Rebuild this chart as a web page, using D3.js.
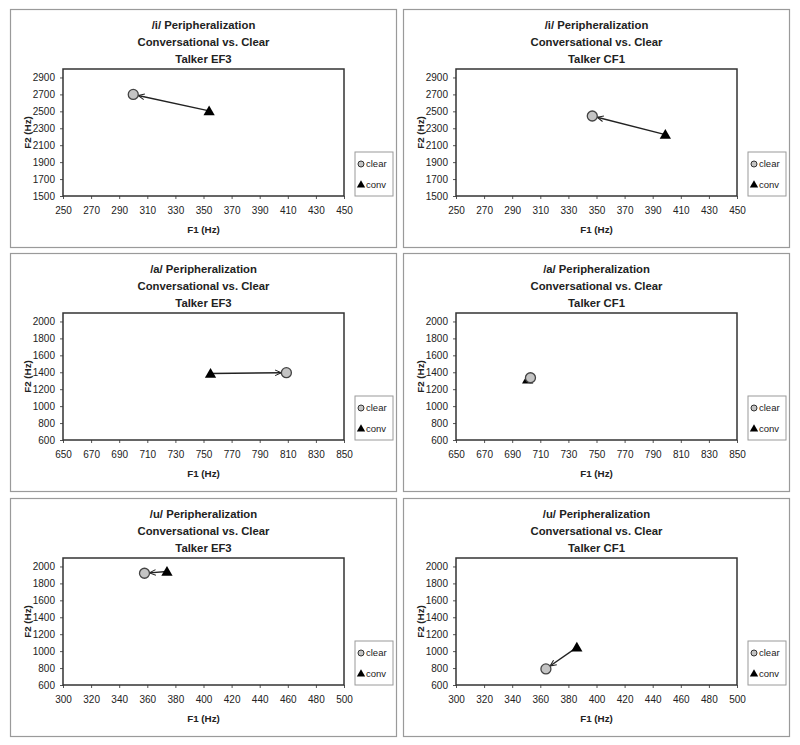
<!DOCTYPE html>
<html>
<head>
<meta charset="utf-8">
<script src="https://cdn.jsdelivr.net/npm/d3@7"></script>
<style>
  body { margin: 0; background: #fff; }
  text { font-family: "Liberation Sans", Arial, sans-serif; }
</style>
</head>
<body>
<div id="chart"></div>
<script>
// six panels: vowel x talker, clear vs conversational formants
let vowels  = ["/i/", "/i/", "/a/", "/a/", "/u/", "/u/"]
let talkers = ["EF3", "CF1", "EF3", "CF1", "EF3", "CF1"]

let clearF1 = [300, 347, 809, 703, 358, 364]
let clearF2 = [2700, 2445, 1395, 1335, 1920, 790]
let convF1  = [354, 399, 755, 701, 374, 386]
let convF2  = [2505, 2225, 1385, 1318, 1940, 1045]

let xDomains = [[250, 450], [250, 450], [650, 850], [650, 850], [300, 500], [300, 500]]
let yDomains = [[1500, 3000], [1500, 3000], [600, 2100], [600, 2100], [600, 2100], [600, 2100]]

let xTicksI = [250, 270, 290, 310, 330, 350, 370, 390, 410, 430, 450]
let xTicksA = [650, 670, 690, 710, 730, 750, 770, 790, 810, 830, 850]
let xTicksU = [300, 320, 340, 360, 380, 400, 420, 440, 460, 480, 500]
let yTicksI = [1500, 1700, 1900, 2100, 2300, 2500, 2700, 2900]
let yTicksAU = [600, 800, 1000, 1200, 1400, 1600, 1800, 2000]
let xTickSets = [xTicksI, xTicksI, xTicksA, xTicksA, xTicksU, xTicksU]
let yTickSets = [yTicksI, yTicksI, yTicksAU, yTicksAU, yTicksAU, yTicksAU]

let legendLabels = ["clear", "conv"]

let width = 800
let height = 745
let colX = [10, 403]
let rowY = [9, 253, 498]
let panelW = 386
let panelH = 238
let plotLeft = 53
let plotTop = 60
let plotW = 281
let plotH = 127

let svg = d3.select("#chart")
  .append("svg")
  .attr("width", width)
  .attr("height", height)

let defs = svg.append("defs")
defs.append("marker")
    .attr("id", "arrow")
    .attr("viewBox", "0 -5 10 10")
    .attr("refX", 9)
    .attr("refY", 0)
    .attr("markerWidth", 7)
    .attr("markerHeight", 7)
    .attr("markerUnits", "userSpaceOnUse")
    .attr("orient", "auto")
  .append("path")
    .attr("d", "M0,-4L9,0L0,4")
    .attr("fill", "none")
    .attr("stroke", "#222")
    .attr("stroke-width", 1.4)

let triangle = d3.symbol().type(d3.symbolTriangle).size(55)
let fmt = d3.format("d")

vowels.forEach((v, i) => {
  let px = colX[i % 2]
  let py = rowY[Math.floor(i / 2)]
  let g = svg.append("g").attr("transform", `translate(${px},${py})`)

  g.append("rect")
    .attr("x", 0.5).attr("y", 0.5)
    .attr("width", panelW).attr("height", panelH)
    .attr("fill", "#fff")
    .attr("stroke", "#9a9a9a")
    .attr("stroke-width", 1.2)

  let x = d3.scaleLinear().domain(xDomains[i]).range([plotLeft, plotLeft + plotW])
  let y = d3.scaleLinear().domain(yDomains[i]).range([plotTop + plotH, plotTop])

  // titles
  let cx = plotLeft + plotW / 2
  let titles = [v + " Peripheralization", "Conversational vs. Clear", "Talker " + talkers[i]]
  g.selectAll(".title")
    .data(titles)
    .enter()
    .append("text")
    .attr("x", cx)
    .attr("y", (d, k) => 20 + k * 17)
    .attr("text-anchor", "middle")
    .attr("font-size", "11.3px")
    .attr("font-weight", "bold")
    .attr("fill", "#222")
    .text(d => d)

  // axes
  let xAxis = d3.axisBottom(x).tickValues(xTickSets[i]).tickFormat(fmt)
                .tickSize(3).tickSizeOuter(0).tickPadding(8)
  let yAxis = d3.axisLeft(y).tickValues(yTickSets[i]).tickFormat(fmt)
                .tickSize(3).tickSizeOuter(0).tickPadding(5)

  let gx = g.append("g")
    .attr("transform", `translate(0,${plotTop + plotH})`)
    .call(xAxis)
  let gy = g.append("g")
    .attr("transform", `translate(${plotLeft},0)`)
    .call(yAxis)
  ;[gx, gy].forEach(a => {
    a.select(".domain").remove()
    a.selectAll(".tick line").attr("stroke", "#555")
    a.selectAll(".tick text")
      .attr("font-size", "10px")
      .attr("fill", "#222")
      .style("font-family", "'Liberation Sans', Arial, sans-serif")
  })

  g.append("rect")
    .attr("x", plotLeft).attr("y", plotTop)
    .attr("width", plotW).attr("height", plotH)
    .attr("fill", "none")
    .attr("stroke", "#333")
    .attr("stroke-width", 1.5)

  g.append("text")
    .attr("x", cx)
    .attr("y", plotTop + plotH + 37)
    .attr("text-anchor", "middle")
    .attr("font-size", "9.8px")
    .attr("font-weight", "bold")
    .attr("fill", "#222")
    .text("F1 (Hz)")

  g.append("text")
    .attr("transform", `translate(21,${plotTop + plotH / 2}) rotate(-90)`)
    .attr("text-anchor", "middle")
    .attr("font-size", "9.8px")
    .attr("font-weight", "bold")
    .attr("fill", "#222")
    .text("F2 (Hz)")

  // arrow from conversational to clear
  let x1 = x(convF1[i]), y1 = y(convF2[i])
  let x2 = x(clearF1[i]), y2 = y(clearF2[i])
  let len = Math.hypot(x2 - x1, y2 - y1)
  let r = 5
  if (len > r + 2) {
    let ex = x2 - (x2 - x1) / len * r
    let ey = y2 - (y2 - y1) / len * r
    g.append("line")
      .attr("x1", x1).attr("y1", y1)
      .attr("x2", ex).attr("y2", ey)
      .attr("stroke", "#222")
      .attr("stroke-width", 1.4)
      .attr("marker-end", "url(#arrow)")
  }

  g.append("path")
    .attr("d", triangle)
    .attr("transform", `translate(${x1},${y1 + 1})`)
    .attr("fill", "#000")

  g.append("circle")
    .attr("cx", x2).attr("cy", y2)
    .attr("r", r)
    .attr("fill", "#c4c4c4")
    .attr("stroke", "#444")
    .attr("stroke-width", 1.3)

  // legend
  let lg = g.append("g").attr("transform", `translate(${plotLeft + plotW + 11},${plotTop + plotH - 44})`)
  lg.append("rect")
    .attr("width", 38).attr("height", 44)
    .attr("fill", "#fff")
    .attr("stroke", "#9a9a9a")
    .attr("stroke-width", 1)
  lg.append("circle")
    .attr("cx", 6).attr("cy", 12)
    .attr("r", 3)
    .attr("fill", "#c4c4c4")
    .attr("stroke", "#333")
    .attr("stroke-width", 1)
  lg.append("path")
    .attr("d", d3.symbol().type(d3.symbolTriangle).size(30))
    .attr("transform", "translate(6,33)")
    .attr("fill", "#000")
  lg.selectAll(".lab")
    .data(legendLabels)
    .enter()
    .append("text")
    .attr("x", 11)
    .attr("y", (d, k) => 15 + k * 21)
    .attr("font-size", "9.5px")
    .attr("fill", "#222")
    .text(d => d)
})
</script>
</body>
</html>
